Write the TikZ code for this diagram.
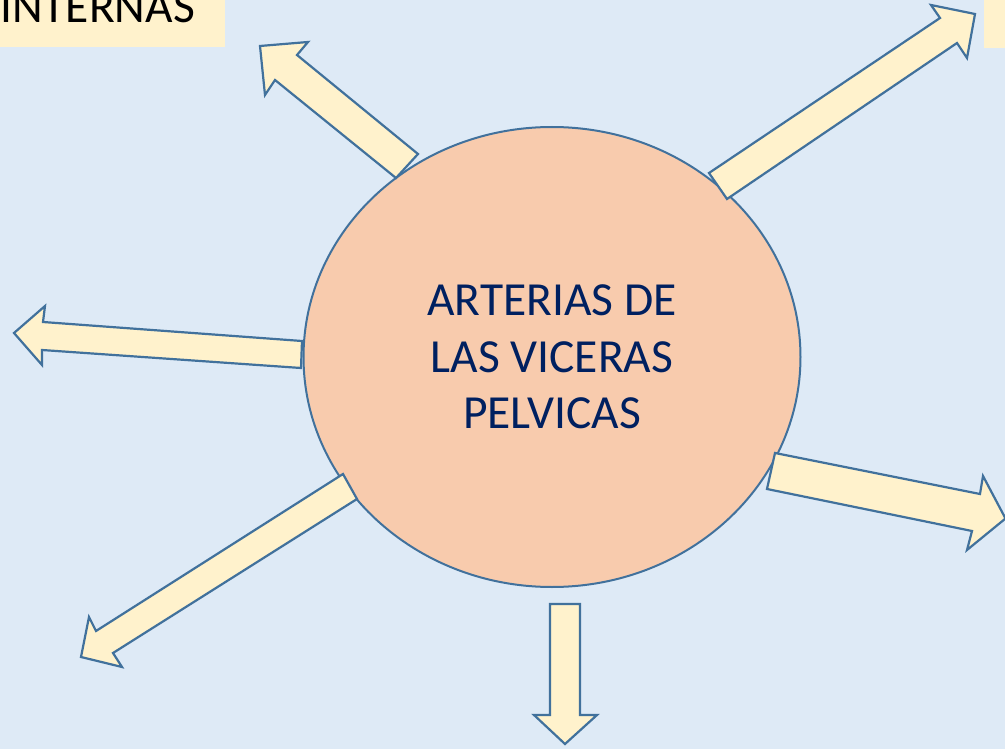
\documentclass[tikz,border=0pt]{standalone}
\usepackage{fontspec}
\setmainfont{Carlito}
\usetikzlibrary{shapes.geometric}
\definecolor{bgblue}{HTML}{DEEAF6}
\definecolor{cream}{HTML}{FFF2CC}
\definecolor{peach}{HTML}{F8CBAD}
\definecolor{edgeblue}{HTML}{41719C}
\definecolor{navy}{HTML}{002060}
\tikzset{
  blockarrow/.style={fill=cream, draw=edgeblue, line width=2.2pt, line join=miter},
  hub/.style={ellipse, fill=peach, draw=edgeblue, line width=2pt, minimum width=497pt, minimum height=460pt, inner sep=0pt, align=center, text=navy, font=\fontsize{47.5}{56.5}\selectfont},
  labelbox/.style={fill=cream, draw=none}
}
\begin{document}
\begin{tikzpicture}[x=1pt,y=-1pt]
\useasboundingbox (0,0) rectangle (1005,749);
\fill[bgblue] (0,0) rectangle (1005,749);
% partial label boxes
\fill[labelbox] (0,0) rectangle (225,47);
\node[anchor=base west, inner sep=0pt, font=\fontsize{47.5}{56.5}\selectfont] (internas) at (0,23) {INTERNAS};
\fill[labelbox] (984,0) rectangle (1005,48);
% central ellipse
\node[hub] (hub) at (552,357) {ARTERIAS DE\\LAS VICERAS\\PELVICAS};
% arrows
\draw[blockarrow] (396,178) -- (275,80) -- (265,95) -- (260,46) -- (308,42) -- (297,55) -- (418,154) -- cycle;
\draw[blockarrow] (709,173) -- (940,18) -- (931,5) -- (975,14) -- (967,58) -- (957,43) -- (727,199) -- cycle;
\draw[blockarrow] (775,453) -- (980,494) -- (983,476) -- (1005.5,518.5) -- (967,550) -- (972,531) -- (767,489) -- cycle;
\draw[blockarrow] (302,341) -- (43,322) -- (45,306) -- (14,333) -- (42,365) -- (42,350) -- (301,368) -- cycle;
\draw[blockarrow] (550,604) -- (550,715) -- (534,715) -- (565,744) -- (597,715) -- (580,715) -- (580,604) -- cycle;
\draw[blockarrow] (343,474) -- (96,631) -- (89,617) -- (81,657) -- (122,667) -- (113,653) -- (357,499) -- cycle;
\end{tikzpicture}
\end{document}
